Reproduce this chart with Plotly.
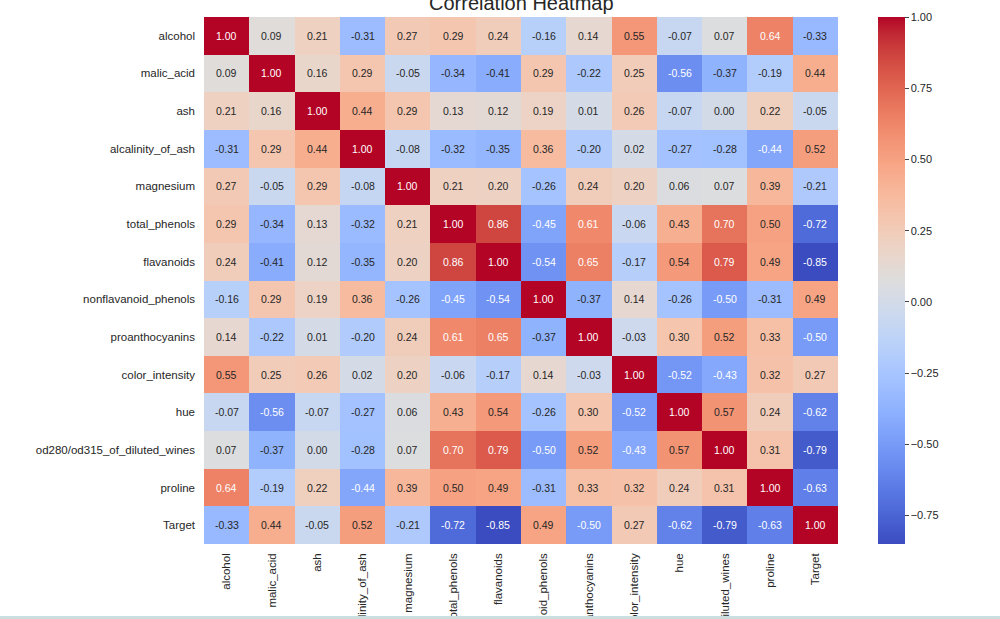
import plotly.graph_objects as go

features = ["alcohol", "malic_acid", "ash", "alcalinity_of_ash", "magnesium",
            "total_phenols", "flavanoids", "nonflavanoid_phenols", "proanthocyanins",
            "color_intensity", "hue", "od280/od315_of_diluted_wines", "proline", "Target"]

corr = [
    [1.00, 0.09, 0.21, -0.31, 0.27, 0.29, 0.24, -0.16, 0.14, 0.55, -0.07, 0.07, 0.64, -0.33],
    [0.09, 1.00, 0.16, 0.29, -0.05, -0.34, -0.41, 0.29, -0.22, 0.25, -0.56, -0.37, -0.19, 0.44],
    [0.21, 0.16, 1.00, 0.44, 0.29, 0.13, 0.12, 0.19, 0.01, 0.26, -0.07, 0.00, 0.22, -0.05],
    [-0.31, 0.29, 0.44, 1.00, -0.08, -0.32, -0.35, 0.36, -0.20, 0.02, -0.27, -0.28, -0.44, 0.52],
    [0.27, -0.05, 0.29, -0.08, 1.00, 0.21, 0.20, -0.26, 0.24, 0.20, 0.06, 0.07, 0.39, -0.21],
    [0.29, -0.34, 0.13, -0.32, 0.21, 1.00, 0.86, -0.45, 0.61, -0.06, 0.43, 0.70, 0.50, -0.72],
    [0.24, -0.41, 0.12, -0.35, 0.20, 0.86, 1.00, -0.54, 0.65, -0.17, 0.54, 0.79, 0.49, -0.85],
    [-0.16, 0.29, 0.19, 0.36, -0.26, -0.45, -0.54, 1.00, -0.37, 0.14, -0.26, -0.50, -0.31, 0.49],
    [0.14, -0.22, 0.01, -0.20, 0.24, 0.61, 0.65, -0.37, 1.00, -0.03, 0.30, 0.52, 0.33, -0.50],
    [0.55, 0.25, 0.26, 0.02, 0.20, -0.06, -0.17, 0.14, -0.03, 1.00, -0.52, -0.43, 0.32, 0.27],
    [-0.07, -0.56, -0.07, -0.27, 0.06, 0.43, 0.54, -0.26, 0.30, -0.52, 1.00, 0.57, 0.24, -0.62],
    [0.07, -0.37, 0.00, -0.28, 0.07, 0.70, 0.79, -0.50, 0.52, -0.43, 0.57, 1.00, 0.31, -0.79],
    [0.64, -0.19, 0.22, -0.44, 0.39, 0.50, 0.49, -0.31, 0.33, 0.32, 0.24, 0.31, 1.00, -0.63],
    [-0.33, 0.44, -0.05, 0.52, -0.21, -0.72, -0.85, 0.49, -0.50, 0.27, -0.62, -0.79, -0.63, 1.00],
]

cbar_ticks = [1.00, 0.75, 0.50, 0.25, 0.00, -0.25, -0.50, -0.75]

coolwarm_rgb = [
    (59, 76, 192), (68, 90, 204), (77, 104, 215), (87, 117, 225), (98, 130, 234),
    (108, 142, 241), (119, 154, 247), (130, 165, 251), (141, 176, 254), (152, 185, 255),
    (163, 194, 255), (174, 201, 253), (184, 208, 249), (194, 213, 244), (204, 217, 238),
    (213, 219, 230), (221, 221, 221), (229, 216, 209), (236, 211, 197), (241, 204, 184),
    (245, 196, 172), (247, 187, 159), (247, 177, 147), (247, 166, 134), (244, 154, 123),
    (241, 141, 111), (236, 127, 99), (229, 112, 89), (222, 96, 78), (213, 80, 69),
    (203, 62, 60), (192, 40, 51), (180, 4, 38),
]
n = len(coolwarm_rgb)
colorscale = [[i / (n - 1), "rgb(%d,%d,%d)" % c] for i, c in enumerate(coolwarm_rgb)]

FONT = "Liberation Sans, Arial, sans-serif"
W, H = 1000, 619
L, R, T, B = 204, 162, 17, 75
PH = H - T - B

fig = go.Figure()
fig.add_trace(go.Heatmap(
    z=corr, x=features, y=features,
    colorscale=colorscale, zmin=-0.85, zmax=1.0,
    xgap=0, ygap=0, hoverinfo="skip",
    colorbar=dict(
        xref="container", x=878 / W, xanchor="left",
        yref="container", y=1 - (T + 3) / H, yanchor="top",
        lenmode="pixels", len=PH, thickness=27,
        outlinewidth=0, xpad=0, ypad=0,
        tickvals=cbar_ticks,
        ticktext=[("%.2f" % v).replace("-", "\u2212") for v in cbar_ticks],
        ticks="outside", ticklen=4, tickwidth=1, tickcolor="#444",
        tickfont=dict(family=FONT, size=11, color="#262626"),
    ),
))

annotations = []
for i, row in enumerate(corr):
    for j, v in enumerate(row):
        white = v >= 0.60 or v <= -0.42
        annotations.append(dict(
            x=features[j], y=features[i], xref="x", yref="y",
            text="%.2f" % v, showarrow=False,
            font=dict(family=FONT, size=10.5, color="#ffffff" if white else "#262626"),
        ))

annotations.append(dict(
    text="Correlation Heatmap", xref="paper", x=0.5, yref="paper", y=1 + 1 / PH,
    xanchor="center", yanchor="bottom", showarrow=False,
    font=dict(family=FONT, size=20, color="#262626"),
))

fig.update_layout(
    width=W, height=H,
    margin=dict(l=L, r=R, t=T, b=B, pad=0, autoexpand=False),
    paper_bgcolor="white", plot_bgcolor="white",
    annotations=annotations,
    xaxis=dict(tickangle=-90, showgrid=False, zeroline=False, ticks="", automargin=False,
               ticklabelstandoff=6, tickfont=dict(family=FONT, size=11.5, color="#262626")),
    yaxis=dict(autorange="reversed", showgrid=False, zeroline=False, ticks="", automargin=False,
               ticklabelstandoff=8, tickfont=dict(family=FONT, size=11.5, color="#262626")),
    shapes=[dict(type="rect", xref="paper", yref="paper",
                 x0=-0.5, x1=1.5,
                 y0=-(616 - (H - B)) / PH, y1=-(640 - (H - B)) / PH,
                 fillcolor="#cbdfe0", line=dict(width=0), layer="above")],
)

fig.write_html("out.html")
